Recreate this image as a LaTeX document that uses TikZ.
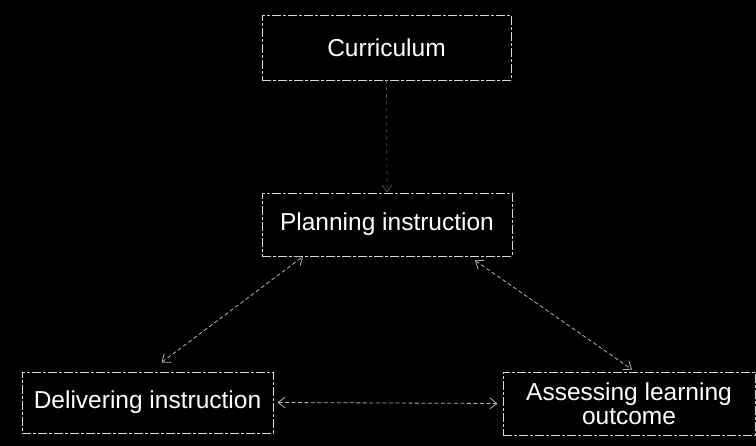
\documentclass[tikz,border=0pt]{standalone}
\usepackage{fontspec}
\setmainfont{Liberation Sans}
\usetikzlibrary{arrows.meta,calc}
\begin{document}
\begin{tikzpicture}[x=1pt,y=-1pt,
  box/.style={draw=white!85!black, line width=0.9pt, dash pattern=on 9pt off 2pt on 3pt off 2pt,
    text=white, font=\fontsize{24.5}{24}\selectfont, align=center, inner sep=0pt},
  link/.style={draw=white!70!black, line width=0.8pt, dash pattern=on 4pt off 2.5pt,
    {Straight Barb[length=7pt,width=11pt]}-{Straight Barb[length=7pt,width=11pt]}},
  onelink/.style={draw=white!35!black, line width=0.7pt, dash pattern=on 3pt off 4pt,
    -{Straight Barb[length=7pt,width=10pt]}}]
\fill[black] (0,0) rectangle (756,446);
\useasboundingbox (0,0) rectangle (756,446);
\node[box, minimum width=249pt, minimum height=65pt] (curr) at (386.5,47.5) {Curriculum};
\node[box, minimum width=250pt, minimum height=63pt] (plan) at (387,224.5) {Planning instruction};
\node[box, minimum width=251pt, minimum height=61pt] (deliv) at (147.5,402.5) {Delivering instruction};
\node[box, minimum width=252pt, minimum height=63pt] (assess) at (629,403.5) {Assessing learning\\outcome};
\draw[onelink] (curr.south) -- (plan.north);
\draw[link] ($(deliv.north)+(14,-9)$) -- ($(plan.south)+(-84,0)$);
\draw[link] ($(plan.south)+(88,4)$) -- ($(assess.north)+(3,-2)$);
\draw[link] ($(deliv.east)+(4,0)$) -- ($(assess.west)+(-5,0)$);
\end{tikzpicture}
\end{document}
